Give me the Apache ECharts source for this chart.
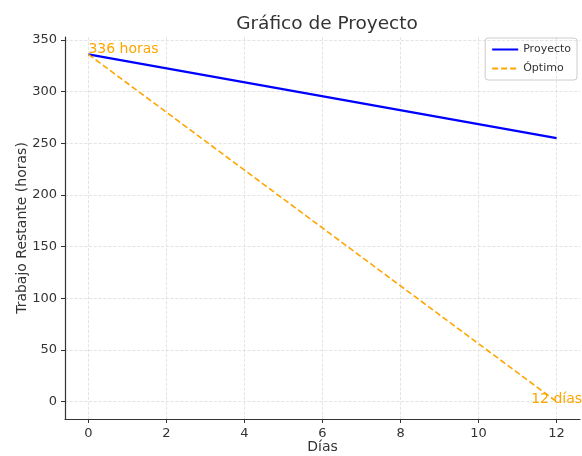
<!DOCTYPE html>
<html>
<head>
<meta charset="utf-8">
<script src="https://cdn.jsdelivr.net/npm/echarts@6/dist/echarts.min.js"></script>
<style>
  html, body { margin: 0; padding: 0; background: #fff; }
  #chart { width: 582px; height: 456px; }
</style>
</head>
<body>
<div id="chart"></div>
<script>
// datos
const dias = [0, 12];
const proyecto = [336, 255];
const optimo = [336, 0];
const xTicks = [0, 2, 4, 6, 8, 10, 12];
const yTicks = [0, 50, 100, 150, 200, 250, 300, 350];

const font = 'DejaVu Sans';
const chart = echarts.init(document.getElementById('chart'));

const option = {
  animation: false,
  title: {
    text: 'Gráfico de Proyecto',
    left: 322, top: 10, textAlign: 'center',
    textStyle: { fontFamily: font, fontSize: 18.5, fontWeight: 'normal', color: '#333' }
  },
  legend: {
    orient: 'vertical', right: 5, top: 38,
    borderColor: '#ccc', borderWidth: 1, borderRadius: 3,
    padding: [6, 6, 6, 6], itemGap: 8, itemWidth: 26, itemHeight: 10,
    itemStyle: { opacity: 0 },
    textStyle: { fontFamily: font, fontSize: 11, color: '#333' },
    data: ['Proyecto', 'Óptimo']
  },
  grid: { left: 65, right: 2, top: 37, bottom: 37, outerBoundsMode: 'none' },
  xAxis: {
    type: 'value', min: -0.6, max: 12.6,
    name: 'Días', nameLocation: 'middle', nameGap: 21, nameMoveOverlap: false,
    nameTextStyle: { fontFamily: font, fontSize: 14, color: '#333' },
    axisLine: { show: true, onZero: false, lineStyle: { color: '#333', width: 1.2 } },
    axisTick: { show: true, length: 4, customValues: xTicks, lineStyle: { color: '#333' } },
    axisLabel: { customValues: xTicks, fontFamily: font, fontSize: 13, color: '#333', margin: 8 },
    splitLine: { show: true, lineStyle: { color: '#ddd', type: 'dashed', width: 0.8 } }
  },
  yAxis: {
    type: 'value', min: -16.8, max: 352.8,
    name: 'Trabajo Restante (horas)', nameLocation: 'middle', nameGap: 36, nameMoveOverlap: false,
    nameTextStyle: { fontFamily: font, fontSize: 14, color: '#333' },
    axisLine: { show: true, onZero: false, lineStyle: { color: '#333', width: 1.2 } },
    axisTick: { show: true, length: 4, customValues: yTicks, lineStyle: { color: '#333' } },
    axisLabel: { customValues: yTicks, fontFamily: font, fontSize: 13, color: '#333', margin: 8 },
    splitLine: { show: true, lineStyle: { color: '#ddd', type: 'dashed', width: 0.8 } }
  },
  series: [
    {
      name: 'Proyecto', type: 'line', symbol: 'none',
      data: dias.map((d, i) => [d, proyecto[i]]),
      lineStyle: { color: '#0000ff', width: 2.4 },
      itemStyle: { color: '#0000ff' }
    },
    {
      name: 'Óptimo', type: 'line', symbol: 'none',
      data: dias.map((d, i) => [d, optimo[i]]),
      lineStyle: { color: '#ffa500', width: 1.6, type: [6, 3] },
      itemStyle: { color: '#ffa500' },
      markPoint: {
        symbol: 'circle', symbolSize: 0,
        label: { fontFamily: font, fontSize: 14, color: '#ffa500' },
        data: [
          { coord: [dias[0], optimo[0]], label: { show: true, formatter: optimo[0] + ' horas', position: 'inside', align: 'left', verticalAlign: 'bottom', offset: [0, 2] } },
          { coord: [dias[1], optimo[1]], label: { show: true, formatter: dias[1] + ' días', position: 'inside', align: 'center', verticalAlign: 'bottom', offset: [0, 5] } }
        ]
      }
    }
  ]
};
chart.setOption(option);
</script>
</body>
</html>
